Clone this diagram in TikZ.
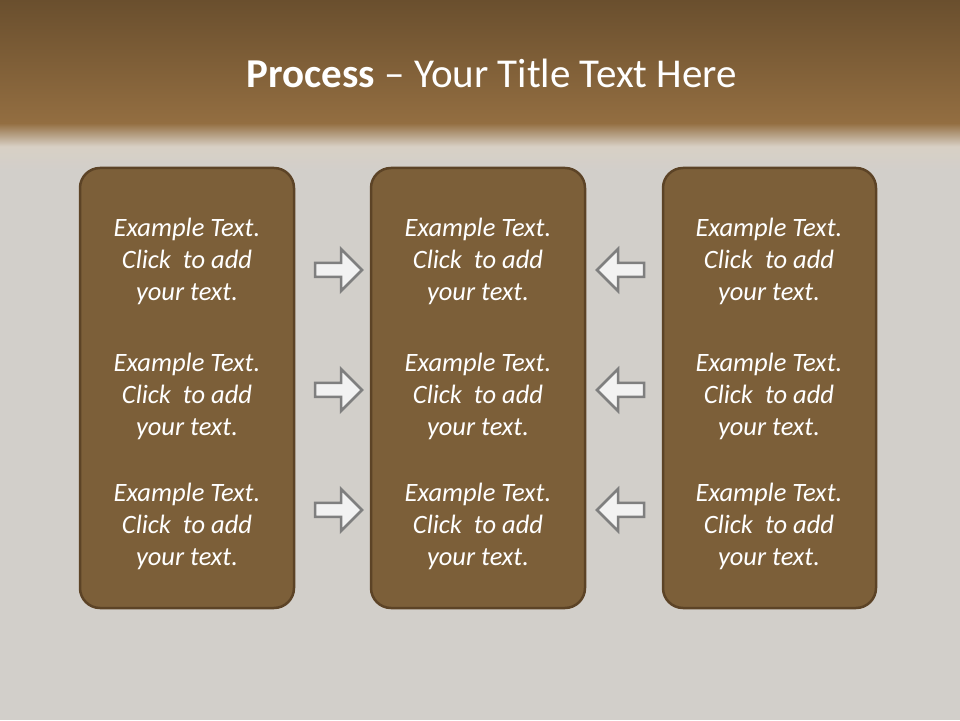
\documentclass[tikz,border=0pt]{standalone}
\usepackage{fontspec}
\setmainfont{Carlito}
\usetikzlibrary{positioning}
\definecolor{woodtop}{HTML}{6A4F2E}
\definecolor{woodmid}{HTML}{936E41}
\definecolor{paleband}{HTML}{D8D0C5}
\definecolor{greywood}{HTML}{D2CFCA}
\definecolor{boxfill}{HTML}{7C5F39}
\definecolor{boxline}{HTML}{5C4326}
\definecolor{arrowfill}{HTML}{F2F2F2}
\definecolor{arrowline}{HTML}{7F7F7F}
\tikzset{
  panel/.style={draw=boxline,line width=2.5pt,fill=boxfill,rounded corners=20pt},
  blurb/.style={text=white,align=center,font=\fontsize{26.5}{32}\selectfont\itshape},
  rarrow/.pic={\draw[draw=arrowline,fill=arrowfill,line width=2.5pt,line join=miter]
    (-23,-7)--(3,-7)--(3,-21)--(24,0)--(3,21)--(3,7)--(-23,7)--cycle;}
}
\begin{document}
\begin{tikzpicture}[x=1pt,y=1pt]
\useasboundingbox (0,0) rectangle (960,720);
% background
\fill[greywood] (0,0) rectangle (960,550);
\shade[top color=woodmid,bottom color=greywood,middle color=paleband] (0,550) rectangle (960,597);
\shade[top color=woodtop,bottom color=woodmid] (0,597) rectangle (960,720);
% title
\node[anchor=base,text=white,font=\fontsize{41}{48}\selectfont] (title) at (492,632)
  {\textbf{Process} -- Your Title Text Here};
% three panels
\draw[panel] (80,112) rectangle (294,552);
\draw[panel] (371,112) rectangle (585,552);
\draw[panel] (663,112) rectangle (876,552);
\node[blurb] (l1) at (187,459) {Example Text.\\Click~ to add\\your text.};
\node[blurb] (l2) at (187,324) {Example Text.\\Click~ to add\\your text.};
\node[blurb] (l3) at (187,194) {Example Text.\\Click~ to add\\your text.};
\node[blurb] (m1) at (478,459) {Example Text.\\Click~ to add\\your text.};
\node[blurb] (m2) at (478,324) {Example Text.\\Click~ to add\\your text.};
\node[blurb] (m3) at (478,194) {Example Text.\\Click~ to add\\your text.};
\node[blurb] (r1) at (769,459) {Example Text.\\Click~ to add\\your text.};
\node[blurb] (r2) at (769,324) {Example Text.\\Click~ to add\\your text.};
\node[blurb] (r3) at (769,194) {Example Text.\\Click~ to add\\your text.};
% block arrows
\pic at (338,450) {rarrow};
\pic at (338,330) {rarrow};
\pic at (338,210) {rarrow};
\pic[xscale=-1] at (621,450) {rarrow};
\pic[xscale=-1] at (621,330) {rarrow};
\pic[xscale=-1] at (621,210) {rarrow};
\end{tikzpicture}
\end{document}
